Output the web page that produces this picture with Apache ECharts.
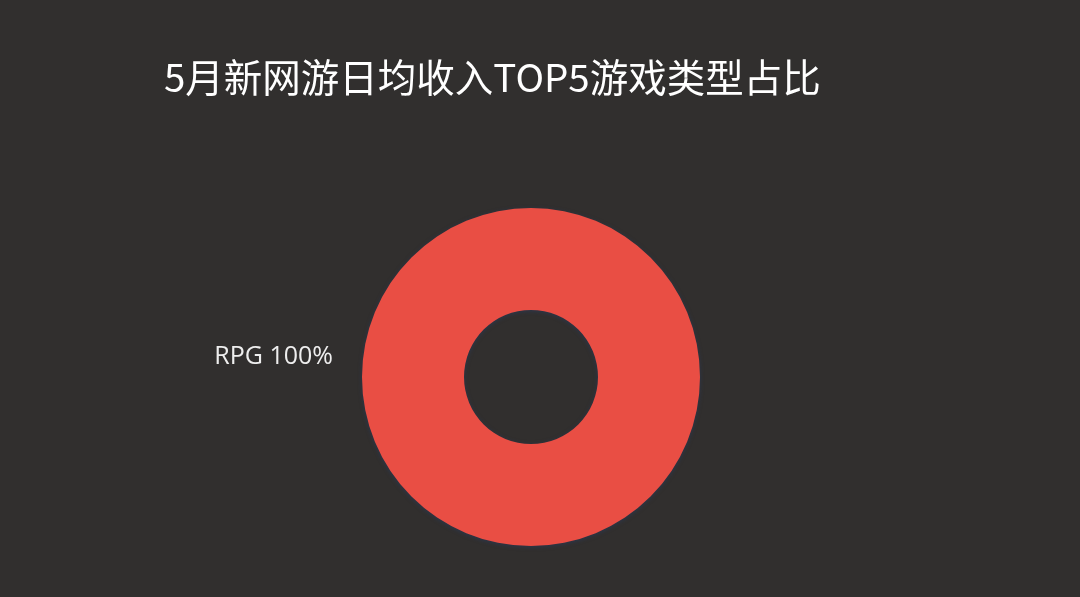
<!DOCTYPE html>
<html><head><meta charset="utf-8">
<script src="https://cdn.jsdelivr.net/npm/echarts@6/dist/echarts.min.js"></script>
<style>html,body{margin:0;padding:0;background:#312f2e;}#c{width:1080px;height:597px;}</style>
</head><body><div id="c"></div>
<script>
const titleText = '5月新网游日均收入TOP5游戏类型占比';
const categories = ['RPG'];
const values = [100];
const colors = ['#e94e44'];
const chart = echarts.init(document.getElementById('c'));
chart.setOption({
  backgroundColor: '#312f2e',
  animation: false,
  title: {
    text: titleText, left: 159, top: 53,
    textStyle: {color: '#ffffff', fontSize: 38.5, fontWeight: 'normal', fontFamily: 'Noto Sans CJK SC'}
  },
  series: [{
    type: 'pie',
    center: [531, 377],
    radius: [67, 169],
    startAngle: 0,
    data: categories.map((c, i) => ({name: c, value: values[i], itemStyle: {color: colors[i]}})),
    itemStyle: {shadowBlur: 4, shadowColor: 'rgba(40,60,100,0.6)', shadowOffsetY: 1},
    label: {
      show: true, position: 'outside', formatter: '{b} {d}%',
      color: '#eeeeee', fontSize: 25, fontFamily: 'Open Sans'
    },
    labelLine: {show: false, length: 15, length2: 10},
    labelLayout: {dy: -20, dx: 1},
    emphasis: {disabled: true}
  }]
});
</script></body></html>
